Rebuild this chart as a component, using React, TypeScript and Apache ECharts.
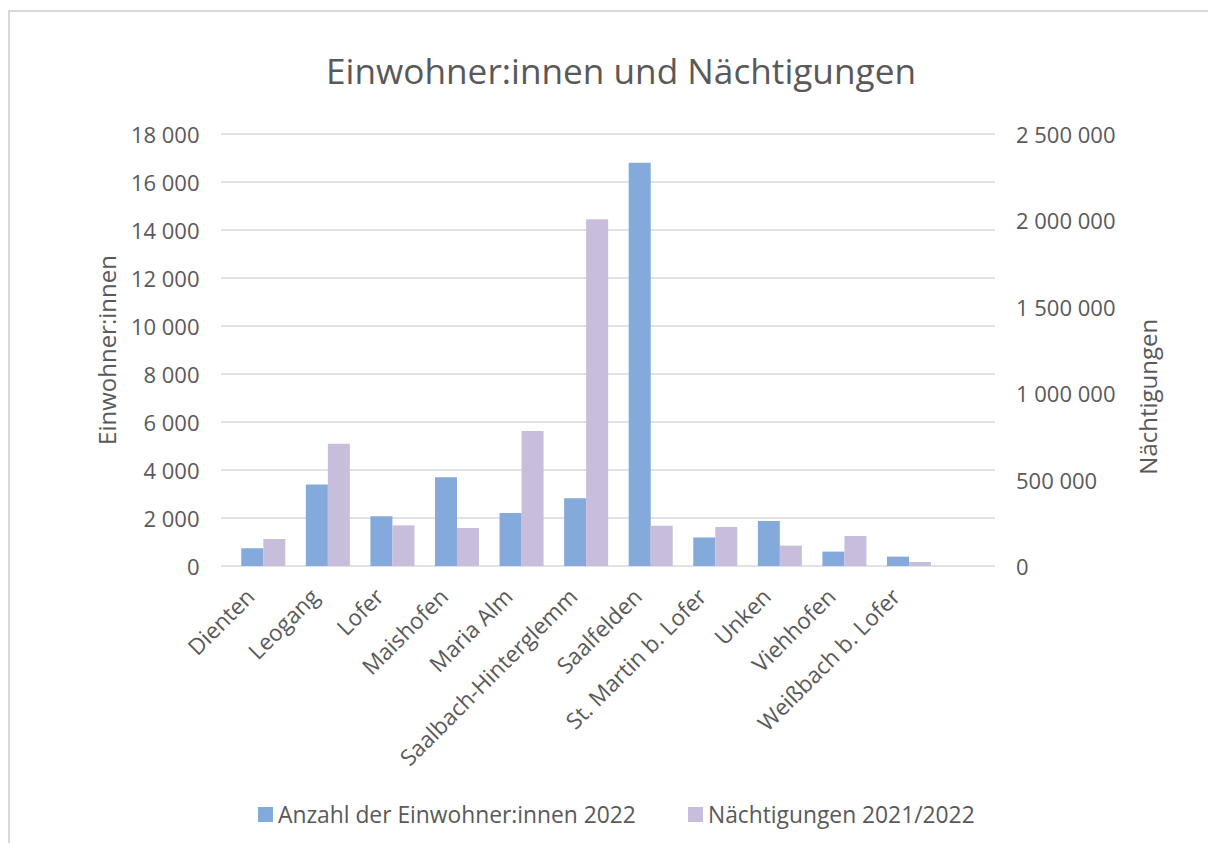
import React, { useEffect, useRef } from "react";
import * as echarts from "echarts";

const categories = [
  "Dienten",
  "Leogang",
  "Lofer",
  "Maishofen",
  "Maria Alm",
  "Saalbach-Hinterglemm",
  "Saalfelden",
  "St. Martin b. Lofer",
  "Unken",
  "Viehhofen",
  "Weißbach b. Lofer",
];

const einwohner2022 = [740, 3400, 2070, 3700, 2210, 2820, 16800, 1190, 1880, 600, 390];
const naechtigungen2122 = [156000, 708000, 235000, 220000, 781000, 2006000, 233000, 226000, 118000, 174000, 23000];

const seriesNames = ["Anzahl der Einwohner:innen 2022", "Nächtigungen 2021/2022"];
const titleText = "Einwohner:innen und Nächtigungen";
const leftAxisName = "Einwohner:innen";
const rightAxisName = "Nächtigungen";

const FONT = "'Open Sans', sans-serif";
const TEXT = "#595959";
const GRID = "#D9D9D9";
const BLUE = "#84A9DB";
const PURPLE = "#C8BEDC";

const fmt = (v: number) => String(v).replace(/\B(?=(\d{3})+(?!\d))/g, " ");

export default function App() {
  const ref = useRef<HTMLDivElement>(null);
  useEffect(() => {
    document.documentElement.style.overflow = "hidden";
    document.body.style.overflow = "hidden";
    document.body.style.margin = "0";
    if (!ref.current) return;
    const chart = echarts.init(ref.current, undefined, { renderer: "svg" });
    const O = 8;
    const catW = 64.57;
    const barsLeft = 223 + O;
    const labelShift = 9;
    const legendText = { fontFamily: FONT, fontSize: 22.8, color: TEXT };
    chart.setOption({
      animation: false,
      backgroundColor: "#ffffff",
      textStyle: { fontFamily: FONT, color: TEXT },
      graphic: [
        {
          type: "line",
          silent: true,
          shape: { x1: O + 1, y1: O + 3, x2: O + 1, y2: 900 },
          style: { stroke: GRID, lineWidth: 2 },
        },
        {
          type: "line",
          silent: true,
          shape: { x1: O, y1: O + 3, x2: 1300, y2: O + 3 },
          style: { stroke: GRID, lineWidth: 2 },
        },
        {
          type: "text",
          x: 613 + O,
          y: 62 + O,
          style: {
            text: titleText,
            font: `35.2px ${FONT}`,
            fill: TEXT,
            textAlign: "center",
            textVerticalAlign: "middle",
          },
        },
        {
          type: "text",
          x: 98.7 + O,
          y: 342 + O,
          rotation: Math.PI / 2,
          style: {
            text: leftAxisName,
            font: `24px ${FONT}`,
            fill: TEXT,
            textAlign: "center",
            textVerticalAlign: "middle",
          },
        },
        {
          type: "text",
          x: 1139 + O,
          y: 388.7 + O,
          rotation: Math.PI / 2,
          style: {
            text: rightAxisName,
            font: `24px ${FONT}`,
            fill: TEXT,
            textAlign: "center",
            textVerticalAlign: "middle",
          },
        },
      ],
      legend: [
        {
          data: [seriesNames[0]],
          left: 250 + O,
          top: 795 + O,
          padding: 0,
          itemWidth: 15,
          itemHeight: 15,
          icon: "rect",
          textStyle: legendText,
        },
        {
          data: [seriesNames[1]],
          left: 680 + O,
          top: 795 + O,
          padding: 0,
          itemWidth: 15,
          itemHeight: 15,
          icon: "rect",
          textStyle: legendText,
        },
      ],
      grid: [
        { left: 213 + O, top: 126 + O, width: 774, height: 432 },
        { left: barsLeft, top: 126 + O, width: catW * categories.length, height: 432 },
        { left: barsLeft - labelShift, top: 126 + O, width: catW * categories.length, height: 432 },
      ],
      xAxis: [
        { gridIndex: 0, type: "value", min: 0, max: 1, show: false },
        {
          gridIndex: 1,
          type: "category",
          data: categories,
          axisLine: { show: false },
          axisTick: { show: false },
          axisLabel: { show: false },
        },
        {
          gridIndex: 2,
          type: "category",
          data: categories,
          axisLine: { show: false },
          axisTick: { show: false },
          axisLabel: {
            interval: 0,
            rotate: 45,
            margin: 22,
            padding: [0, 6, 0, 0],
            fontFamily: FONT,
            fontSize: 22.5,
            color: TEXT,
          },
        },
      ],
      yAxis: [
        {
          gridIndex: 0,
          type: "value",
          position: "left",
          min: 0,
          max: 18000,
          interval: 2000,
          axisLine: { show: false },
          axisTick: { show: false },
          axisLabel: { margin: 21.5, fontFamily: FONT, fontSize: 22, color: TEXT, formatter: fmt },
          splitLine: { show: true, lineStyle: { color: GRID, width: 1.5 } },
        },
        {
          gridIndex: 0,
          type: "value",
          position: "right",
          min: 0,
          max: 2500000,
          interval: 500000,
          axisLine: { show: false },
          axisTick: { show: false },
          axisLabel: { margin: 21, fontFamily: FONT, fontSize: 22, color: TEXT, formatter: fmt },
          splitLine: { show: false },
        },
        { gridIndex: 1, type: "value", min: 0, max: 18000, show: false, splitLine: { show: false } },
        { gridIndex: 1, type: "value", min: 0, max: 2500000, show: false, splitLine: { show: false } },
        { gridIndex: 2, type: "value", min: 0, max: 1, show: false, splitLine: { show: false } },
      ],
      series: [
        {
          name: seriesNames[0],
          type: "bar",
          xAxisIndex: 1,
          yAxisIndex: 2,
          data: einwohner2022,
          barWidth: 22,
          barGap: "0%",
          itemStyle: { color: BLUE },
        },
        {
          name: seriesNames[1],
          type: "bar",
          xAxisIndex: 1,
          yAxisIndex: 3,
          data: naechtigungen2122,
          barWidth: 22,
          barGap: "0%",
          itemStyle: { color: PURPLE },
        },
      ],
    });
    return () => chart.dispose();
  }, []);
  return <div ref={ref} style={{ width: 1208, height: 843 }} />;
}
